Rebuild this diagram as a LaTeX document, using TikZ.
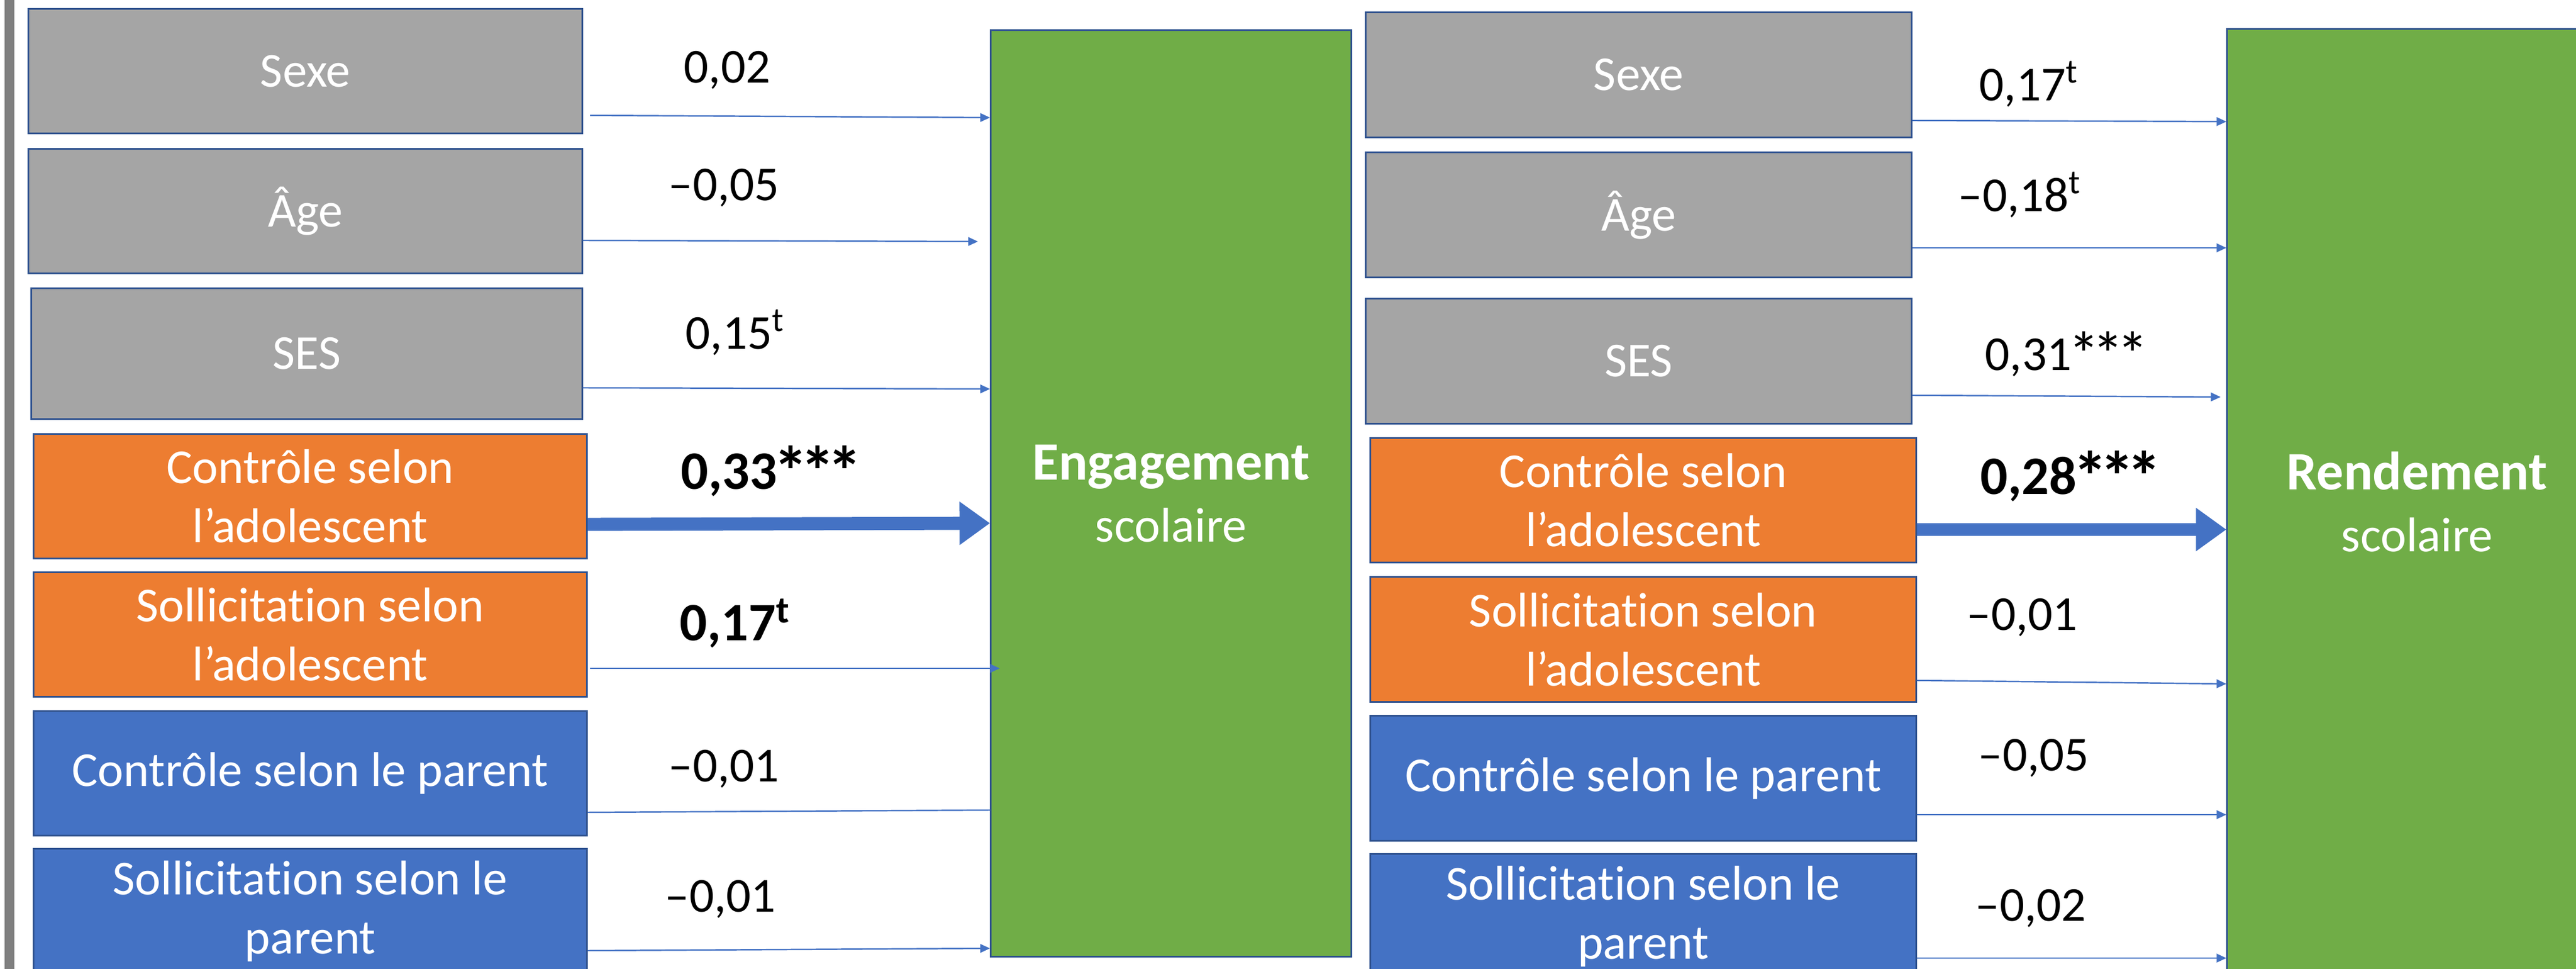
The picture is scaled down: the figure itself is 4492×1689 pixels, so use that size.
\documentclass[tikz,border=0pt]{standalone}
\usepackage{graphicx}
\usepackage{fontspec}
\setmainfont{Carlito}[Ligatures={NoCommon}]
\usetikzlibrary{arrows.meta}
\definecolor{bgray}{HTML}{A5A5A5}
\definecolor{borange}{HTML}{ED7D31}
\definecolor{bblue}{HTML}{4472C4}
\definecolor{bgreen}{HTML}{70AD47}
\definecolor{bedge}{HTML}{2F528F}
\definecolor{barg}{HTML}{7F7F7F}
\newcommand{\onestar}{\kern-0.07em\scalebox{1.3}{*}\kern-0.08em}
\newcommand{\mystars}{\raisebox{-0.12em}{\onestar\onestar\onestar}}
\begin{document}
\begin{tikzpicture}[x=0.01cm,y=-0.01cm,
  box/.style={draw=bedge, line width=0.85pt, text=white, align=center, inner sep=0pt,
    font=\fontsize{24.2pt}{29.3pt}\selectfont},
  lbox/.style={box, minimum width=9.64cm, minimum height=2.16cm},
  rbox/.style={box, minimum width=9.51cm, minimum height=2.17cm},
  graybox/.style={fill=bgray},
  orangebox/.style={fill=borange},
  bluebox/.style={fill=bblue},
  outbox/.style={box, fill=bgreen, font=\fontsize{24.2pt}{30.7pt}\selectfont},
  lab/.style={anchor=base west, inner sep=0pt, font=\fontsize{24.2pt}{29.3pt}\selectfont},
  blab/.style={anchor=base west, inner sep=0pt, font=\fontsize{26.8pt}{32pt}\selectfont\bfseries},
  arr/.style={draw=bblue, line width=0.7pt, -{Triangle[length=0.17cm,width=0.15cm]}},
  plainline/.style={draw=bblue, line width=0.7pt},
  tarr/.style={draw=bblue, line width=6.5pt, -{Triangle[length=0.53cm,width=0.72cm]}}
]
\useasboundingbox (0,0) rectangle (4492,1689);
\clip (0,0) rectangle (4492,1689);
\fill[white] (0,0) rectangle (4492,1689);
\fill[barg] (8,0) rectangle (25,1689);

% left column
\node[lbox, graybox, minimum width=9.65cm] (L1) at (532.5,124) {Sexe};
\node[lbox, graybox, minimum width=9.65cm] (L2) at (532.5,368) {Âge};
\node[lbox, graybox, minimum width=9.60cm, minimum height=2.27cm] (L3) at (535,616.5) {SES};
\node[lbox, orangebox] (L4) at (541,865) {Contrôle selon\\l’adolescent};
\node[lbox, orangebox] (L5) at (541,1106) {Sollicitation selon\\l’adolescent};
\node[lbox, bluebox] (L6) at (541,1348) {Contrôle selon le parent};
\node[lbox, bluebox] (L7) at (541,1588) {Sollicitation selon le\\parent};

\node[outbox, minimum width=6.28cm, minimum height=16.14cm] (G1) at (2042,860)
  {{\fontsize{26.8pt}{30.7pt}\selectfont\bfseries Engagement}\\scolaire};

% right column
\node[rbox, graybox] (R1) at (2857.5,130.5) {Sexe};
\node[rbox, graybox] (R2) at (2857.5,374.5) {Âge};
\node[rbox, graybox] (R3) at (2857.5,629.5) {SES};
\node[rbox, orangebox] (R4) at (2865.5,872) {Contrôle selon\\l’adolescent};
\node[rbox, orangebox] (R5) at (2865.5,1114.5) {Sollicitation selon\\l’adolescent};
\node[rbox, bluebox] (R6) at (2865.5,1356.5) {Contrôle selon le parent};
\node[rbox, bluebox] (R7) at (2865.5,1597.5) {Sollicitation selon le\\parent};

\node[outbox, minimum width=6.62cm, minimum height=16.48cm] (G2) at (4215,875)
  {{\fontsize{26.8pt}{30.7pt}\selectfont\bfseries Rendement}\\scolaire};

% left arrows
\draw[arr, shorten <=0.12cm] (L1.east |- 0,201) -- (G1.west |- 0,205);
\draw[arr] (L2.east |- 0,419) -- ([xshift=-0.21cm]G1.west |- 0,421);
\draw[arr] (L3.east |- 0,676) -- (G1.west |- 0,678);
\draw[tarr] (L4.east |- 0,914) -- (G1.west |- 0,912);
\draw[arr, shorten <=0.04cm] (L5.east |- 0,1165) -- ([xshift=0.17cm]G1.west |- 0,1165);
\draw[plainline] (L6.east |- 0,1416) -- (G1.west |- 0,1412);
\draw[arr] (L7.east |- 0,1657) -- (G1.west |- 0,1653);

% right arrows
\draw[arr] (R1.east |- 0,210) -- (G2.west |- 0,212);
\draw[arr] (R2.east |- 0,432) -- (G2.west |- 0,432);
\draw[arr] (R3.east |- 0,689) -- ([xshift=-0.1cm]G2.west |- 0,692);
\draw[tarr] (R4.east |- 0,923) -- (G2.west |- 0,923);
\draw[arr] (R5.east |- 0,1186) -- (G2.west |- 0,1192);
\draw[arr] (R6.east |- 0,1420) -- (G2.west |- 0,1420);
\draw[arr] (R7.east |- 0,1670) -- (G2.west |- 0,1670);

% left labels
\node[lab] (a1) at (1192,145) {0,02};
\node[lab] (a2) at (1165,350) {–0,05};
\node[lab] (a3) at (1195,609) {0,15\textsuperscript{t}};
\node[blab] (a4) at (1187,853) {0,33\mystars};
\node[blab] (a5) at (1185,1117) {0,17\textsuperscript{t}};
\node[lab] (a6) at (1165,1363) {–0,01};
\node[lab] (a7) at (1159,1589) {–0,01};

% right labels
\node[lab] (b1) at (3451,176) {0,17\textsuperscript{t}};
\node[lab] (b2) at (3414,369) {–0,18\textsuperscript{t}};
\node[lab] (b3) at (3461,646) {0,31\mystars};
\node[blab] (b4) at (3453,862) {0,28\mystars};
\node[lab] (b5) at (3429,1099) {–0,01};
\node[lab] (b6) at (3449,1344) {–0,05};
\node[lab] (b7) at (3444,1605) {–0,02};
\end{tikzpicture}
\end{document}
